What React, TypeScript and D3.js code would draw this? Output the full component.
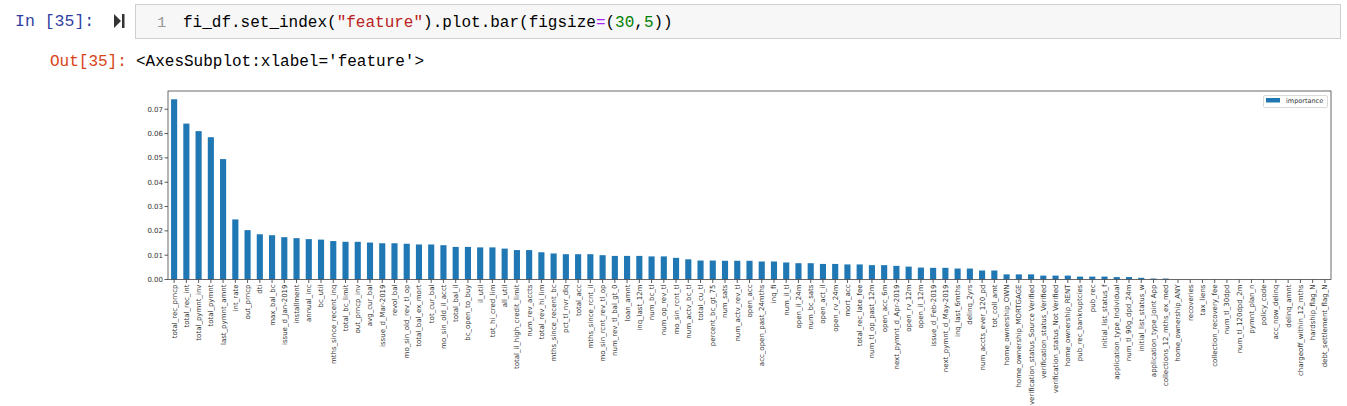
import * as d3 from 'd3';
import { useMemo } from 'react';

// feature importance, sorted as in the notebook output
const features = [
  'total_rec_prncp', 'total_rec_int', 'total_pymnt_inv', 'total_pymnt', 'last_pymnt_amnt',
  'int_rate', 'out_prncp', 'dti', 'max_bal_bc', 'issue_d_Jan-2019',
  'installment', 'annual_inc', 'bc_util', 'mths_since_recent_inq', 'total_bc_limit',
  'out_prncp_inv', 'avg_cur_bal', 'issue_d_Mar-2019', 'revol_bal', 'mo_sin_old_rev_tl_op',
  'total_bal_ex_mort', 'tot_cur_bal', 'mo_sin_old_il_acct', 'total_bal_il', 'bc_open_to_buy',
  'il_util', 'tot_hi_cred_lim', 'all_util', 'total_il_high_credit_limit', 'num_rev_accts',
  'total_rev_hi_lim', 'mths_since_recent_bc', 'pct_tl_nvr_dlq', 'total_acc', 'mths_since_rcnt_il',
  'mo_sin_rcnt_rev_tl_op', 'num_rev_tl_bal_gt_0', 'loan_amnt', 'inq_last_12m', 'num_bc_tl',
  'num_op_rev_tl', 'mo_sin_rcnt_tl', 'num_actv_bc_tl', 'total_cu_tl', 'percent_bc_gt_75',
  'num_sats', 'num_actv_rev_tl', 'open_acc', 'acc_open_past_24mths', 'inq_fi',
  'num_il_tl', 'open_il_24m', 'num_bc_sats', 'open_act_il', 'open_rv_24m',
  'mort_acc', 'total_rec_late_fee', 'num_tl_op_past_12m', 'open_acc_6m', 'next_pymnt_d_Apr-2019',
  'open_rv_12m', 'open_il_12m', 'issue_d_Feb-2019', 'next_pymnt_d_May-2019', 'inq_last_6mths',
  'delinq_2yrs', 'num_accts_ever_120_pd', 'tot_coll_amt', 'home_ownership_OWN', 'home_ownership_MORTGAGE',
  'verification_status_Source Verified', 'verification_status_Verified', 'verification_status_Not Verified', 'home_ownership_RENT', 'pub_rec_bankruptcies',
  'pub_rec', 'initial_list_status_f', 'application_type_Individual', 'num_tl_90g_dpd_24m', 'initial_list_status_w',
  'application_type_Joint App', 'collections_12_mths_ex_med', 'home_ownership_ANY', 'recoveries', 'tax_liens',
  'collection_recovery_fee', 'num_tl_30dpd', 'num_tl_120dpd_2m', 'pymnt_plan_n', 'policy_code',
  'acc_now_delinq', 'delinq_amnt', 'chargeoff_within_12_mths', 'hardship_flag_N', 'debt_settlement_flag_N',
];

const importance = [
  0.0741, 0.0641, 0.0610, 0.0585, 0.0495,
  0.0247, 0.0203, 0.0186, 0.0182, 0.0174,
  0.0170, 0.0166, 0.0164, 0.0158, 0.0155,
  0.0155, 0.0152, 0.0149, 0.0149, 0.0147,
  0.0144, 0.0144, 0.0141, 0.0134, 0.0134,
  0.0132, 0.0132, 0.0127, 0.0121, 0.0121,
  0.0112, 0.0107, 0.0104, 0.0104, 0.0104,
  0.0100, 0.0097, 0.0097, 0.0097, 0.0095,
  0.0095, 0.0089, 0.0083, 0.0078, 0.0078,
  0.0077, 0.0077, 0.0077, 0.0074, 0.0074,
  0.0070, 0.0067, 0.0067, 0.0064, 0.0064,
  0.0062, 0.0062, 0.0059, 0.0059, 0.0056,
  0.0053, 0.0049, 0.0048, 0.0048, 0.0045,
  0.0045, 0.0037, 0.0037, 0.0021, 0.0021,
  0.0021, 0.0016, 0.0016, 0.0016, 0.0012,
  0.0012, 0.0012, 0.0010, 0.0010, 0.0007,
  0.0004, 0.0004, 0, 0, 0,
  0, 0, 0, 0, 0,
  0, 0, 0, 0, 0,
];

const yTicks = [0, 0.01, 0.02, 0.03, 0.04, 0.05, 0.06, 0.07];

const mono = "'Liberation Mono', 'DejaVu Sans Mono', monospace";
const sans = "'DejaVu Sans', sans-serif";

export default function App() {
  const width = 1347;
  const height = 406;
  const left = 168;
  const right = 1331;
  const top = 91;
  const bottom = 279.5;

  const xScale = useMemo(() => {
    return d3.scaleBand<string>().domain(features).range([left, right]).paddingInner(0.5).paddingOuter(0.25);
  }, []);

  const yScale = useMemo(() => {
    return d3.scaleLinear().domain([0, 0.0775]).range([bottom, top]);
  }, []);

  return (
    <svg width={width} height={height} style={{ position: 'absolute', left: 0, top: 0, background: '#fff' }}>
      {/* input cell */}
      <text x={15} y={26} fontFamily={mono} fontSize={16.5} fill='#303F9F'>In [35]:</text>
      <path d='M114 14 L121 21 L114 28 Z' fill='#333' />
      <rect x={122} y={14} width={2.5} height={14} fill='#333' />
      <rect x={135.5} y={4.5} width={1205} height={34} fill='#f7f7f7' stroke='#cfcfcf' />
      <text x={157} y={27} fontFamily={mono} fontSize={15.5} fill='#999'>1</text>
      <text x={183} y={27} fontFamily={mono} fontSize={16} fill='#000'>
        <tspan>fi_df.set_index(</tspan>
        <tspan fill='#BA2121'>"feature"</tspan>
        <tspan>).plot.bar(figsize</tspan>
        <tspan fill='#AA22FF'>=</tspan>
        <tspan>(</tspan>
        <tspan fill='#008000'>30</tspan>
        <tspan>,</tspan>
        <tspan fill='#008000'>5</tspan>
        <tspan>))</tspan>
      </text>

      {/* output prompt */}
      <text x={50} y={66} fontFamily={mono} fontSize={16} fill='#D84315'>Out[35]:</text>
      <text x={136} y={66} fontFamily={mono} fontSize={16} fill='#000'>{"<AxesSubplot:xlabel='feature'>"}</text>

      {/* bars */}
      {features.map((f, i) => (
        <rect
          key={f}
          x={xScale(f)}
          y={yScale(importance[i])}
          width={xScale.bandwidth()}
          height={bottom - yScale(importance[i])}
          fill='#1f77b4'
        />
      ))}

      {/* y axis */}
      {yTicks.map((t) => (
        <g key={t}>
          <line x1={left - 3.5} x2={left} y1={yScale(t)} y2={yScale(t)} stroke='#333' strokeWidth={0.8} />
          <text x={left - 5} y={yScale(t)} dy='0.35em' textAnchor='end' fontFamily={sans} fontSize={7} fill='#333'>
            {t.toFixed(2)}
          </text>
        </g>
      ))}

      {/* x axis */}
      {features.map((f) => {
        const cx = (xScale(f) ?? 0) + xScale.bandwidth() / 2;
        return (
          <g key={f}>
            <line x1={cx} x2={cx} y1={bottom} y2={bottom + 3.5} stroke='#333' strokeWidth={0.8} />
            <text
              transform={`translate(${cx},${bottom + 5}) rotate(-90)`}
              dy='0.35em'
              textAnchor='end'
              fontFamily={sans}
              fontSize={7}
              fill='#333'
            >
              {f}
            </text>
          </g>
        );
      })}

      {/* frame */}
      <rect x={left} y={top} width={right - left} height={bottom - top} fill='none' stroke='#444' strokeWidth={0.8} />

      {/* legend */}
      <rect x={1263.5} y={95.5} width={64} height={12} rx={1.5} fill='#fff' stroke='#d0d0d0' strokeWidth={0.8} />
      <rect x={1266} y={98} width={14} height={4.5} fill='#1f77b4' />
      <text x={1286} y={100.5} dy='0.35em' fontFamily={sans} fontSize={6.5} fill='#333'>importance</text>
    </svg>
  );
}
